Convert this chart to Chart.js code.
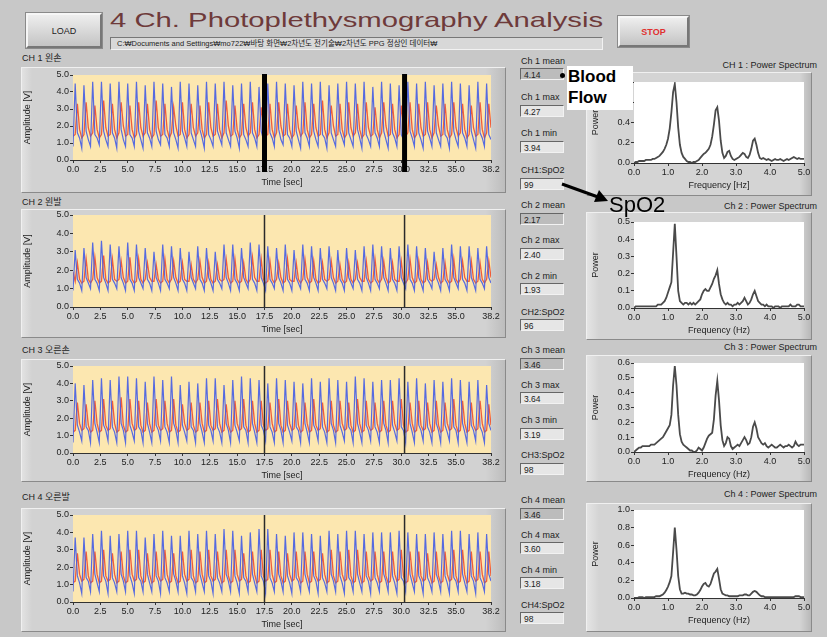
<!DOCTYPE html>
<html><head><meta charset="utf-8">
<script src="https://cdn.jsdelivr.net/npm/chart.js@4.4.0/dist/chart.umd.min.js"></script>
<style>
html,body{margin:0;padding:0;}
body{width:827px;height:637px;background:#c8c8c8;position:relative;overflow:hidden;font-family:"Liberation Sans","Noto Sans CJK KR",sans-serif;color:#222;}
.btn{position:absolute;background:linear-gradient(#eeeeee,#c4c4c4);border:2px solid;border-color:#f6f6f6 #777 #777 #f6f6f6;box-shadow:0 0 0 1px #8a8a8a;font-size:9px;display:flex;align-items:center;justify-content:center;}
.panel{position:absolute;background:#d4d4d4;border:1px solid;border-color:#f0f0f0 #8a8a8a #8a8a8a #f0f0f0;box-sizing:border-box;}
.lbl{position:absolute;font-size:9px;white-space:nowrap;line-height:10px;}
.box{position:absolute;font-size:8.5px;height:12px;line-height:12px;padding-left:3px;box-sizing:border-box;border:1px solid;border-color:#666 #f2f2f2 #f2f2f2 #666;background:#e6e6e6;}
canvas{position:absolute;}
</style></head><body>
<div class="btn" style="left:26px;top:13px;width:72px;height:31px;">LOAD</div>
<div id="title" style="position:absolute;left:110px;top:7px;font-size:21px;color:#6e3a3a;white-space:nowrap;line-height:26px;transform-origin:0 0;">4 Ch. Photoplethysmography Analysis</div>
<div style="position:absolute;left:110px;top:37px;width:493px;height:13px;background:#d8d8d8;border:1px solid;border-color:#777 #f2f2f2 #f2f2f2 #777;box-sizing:border-box;font-size:7.5px;line-height:11px;padding-left:6px;overflow:hidden;white-space:nowrap;">C:₩Documents and Settings₩mo722₩바탕 화면₩2차년도 전기술₩2차년도 PPG 정상인 데이터₩</div>
<div class="btn" style="left:618px;top:16px;width:67px;height:27px;color:#e03030;font-weight:bold;">STOP</div>
<script>
// ---------- DATA ----------
const timeStep = 0.2;
const timeTicks = [0,2.5,5,7.5,10,12.5,15,17.5,20,22.5,25,27.5,30,32.5,35,38.2];
const cursorTimes = [17.5, 30.3];
const channelNames = ['CH 1 왼손','CH 2 왼발','CH 3 오른손','CH 4 오른발'];

const ch1Blue = [
0.8,4.5,1.6,1.3, 0.7,4.4,1.7,1.2, 0.8,4.6,1.5,1.3, 0.9,4.6,1.7,1.2, 0.8,4.5,1.6,1.3, 0.7,4.6,1.8,1.2, 0.8,4.5,1.5,1.3, 0.8,4.6,1.7,1.2,
0.7,4.4,1.6,1.3, 0.8,4.6,1.7,1.2, 0.9,4.5,1.5,1.3, 0.8,4.3,1.6,1.2, 0.7,4.6,1.7,1.3, 0.8,4.5,1.6,1.2, 0.8,4.4,1.8,1.3, 0.7,4.6,1.5,1.2,
0.8,4.5,1.7,1.3, 0.9,4.6,1.6,1.2, 0.8,4.4,1.7,1.3, 0.7,4.5,1.5,1.2, 0.8,4.6,1.6,1.3, 0.8,4.3,1.7,1.2, 0.7,4.5,1.6,1.3, 0.8,4.6,1.8,1.2,
0.9,4.5,1.5,1.3, 0.8,4.4,1.7,1.2, 0.7,4.6,1.6,1.3, 0.8,4.5,1.7,1.2, 0.8,4.6,1.5,1.3, 0.7,4.4,1.6,1.2, 0.8,4.5,1.7,1.3, 0.9,4.6,1.6,1.2,
0.8,4.5,1.8,1.3, 0.7,4.6,1.5,1.2, 0.8,4.3,1.6,1.3, 0.8,4.6,1.7,1.2, 0.7,4.5,1.6,1.3, 0.8,4.4,1.5,1.2, 0.9,4.6,1.7,1.3, 0.8,4.5,1.6,1.2,
0.7,4.6,1.7,1.3, 0.8,4.4,1.6,1.2, 0.8,4.5,1.5,1.3, 0.7,4.6,1.7,1.2, 0.8,4.5,1.6,1.3, 0.8,4.4,1.7,1.2, 0.7,4.6,1.6,1.3, 0.8,4.5,1.5,1.2];
const ch1Red = [
1.4,1.5,3.3,1.8, 1.3,1.5,3.4,1.9, 1.4,1.6,3.2,1.8, 1.3,1.5,3.5,1.9, 1.4,1.5,3.3,1.8, 1.3,1.6,3.4,2.0, 1.4,1.5,3.2,1.8, 1.3,1.5,3.4,1.9,
1.4,1.6,3.3,1.8, 1.3,1.5,3.5,1.9, 1.4,1.5,3.3,1.8, 1.3,1.6,3.1,2.0, 1.4,1.5,3.4,1.8, 1.3,1.5,3.3,1.9, 1.4,1.6,3.2,1.8, 1.3,1.5,3.4,1.9,
1.4,1.5,3.3,1.8, 1.3,1.6,3.5,2.0, 1.4,1.5,3.2,1.8, 1.3,1.5,3.3,1.9, 1.4,1.6,3.4,1.8, 1.3,1.5,3.1,1.9, 1.4,1.5,3.3,1.8, 1.3,1.6,3.4,2.0,
1.4,1.5,3.3,1.8, 1.3,1.5,3.2,1.9, 1.4,1.6,3.4,1.8, 1.3,1.5,3.3,1.9, 1.4,1.5,3.5,1.8, 1.3,1.6,3.2,2.0, 1.4,1.5,3.3,1.8, 1.3,1.5,3.4,1.9,
1.4,1.6,3.3,1.8, 1.3,1.5,3.4,1.9, 1.4,1.5,3.1,1.8, 1.3,1.6,3.4,2.0, 1.4,1.5,3.3,1.8, 1.3,1.5,3.2,1.9, 1.4,1.6,3.4,1.8, 1.3,1.5,3.3,1.9,
1.4,1.5,3.4,1.8, 1.3,1.6,3.2,2.0, 1.4,1.5,3.3,1.8, 1.3,1.5,3.4,1.9, 1.4,1.6,3.3,1.8, 1.3,1.5,3.2,1.9, 1.4,1.5,3.4,1.8, 1.3,1.6,3.3,1.9];
const ch2Blue = [
0.9,3.1,1.5,1.3, 0.9,3.2,1.6,1.3, 1.0,3.5,1.5,1.3, 0.9,3.6,1.6,1.3, 0.9,3.4,1.5,1.3, 1.0,3.3,1.6,1.3, 0.9,3.5,1.5,1.3, 0.9,3.4,1.6,1.3,
1.0,3.2,1.5,1.3, 0.9,3.0,1.6,1.3, 0.9,3.4,1.5,1.3, 1.0,3.3,1.6,1.3, 0.9,3.2,1.5,1.3, 0.9,3.0,1.6,1.3, 1.0,3.3,1.5,1.3, 0.9,3.2,1.6,1.3,
0.9,3.0,1.5,1.3, 1.0,3.4,1.6,1.3, 0.9,3.4,1.5,1.3, 0.9,3.2,1.6,1.3, 1.0,3.5,1.5,1.3, 0.9,3.4,1.6,1.3, 0.9,3.3,1.5,1.3, 1.0,3.2,1.6,1.3,
0.9,3.4,1.5,1.3, 0.9,3.1,1.6,1.3, 1.0,3.4,1.5,1.3, 0.9,3.3,1.6,1.3, 0.9,3.2,1.5,1.3, 1.0,3.3,1.6,1.3, 0.9,3.1,1.5,1.3, 0.9,3.2,1.6,1.3,
1.0,3.1,1.5,1.3, 0.9,3.3,1.6,1.3, 0.9,3.4,1.5,1.3, 1.0,3.3,1.6,1.3, 0.9,3.2,1.5,1.3, 0.9,3.3,1.6,1.3, 1.0,3.4,1.5,1.3, 0.9,3.3,1.6,1.3,
0.9,3.2,1.5,1.3, 1.0,3.0,1.6,1.3, 0.9,3.2,1.5,1.3, 0.9,3.4,1.6,1.3, 1.0,3.3,1.5,1.3, 0.9,3.3,1.6,1.3, 0.9,3.2,1.5,1.3, 1.0,3.3,1.6,1.3];
const ch2Red = [
1.9,1.4,2.4,1.5, 1.3,1.4,2.6,1.5, 1.3,1.5,2.7,1.6, 1.3,1.4,2.8,1.5, 1.3,1.4,2.6,1.5, 1.4,1.5,2.5,1.6, 1.3,1.4,2.7,1.5, 1.3,1.4,2.6,1.5,
1.3,1.5,2.4,1.6, 1.4,1.4,2.3,1.5, 1.3,1.4,2.6,1.5, 1.3,1.5,2.5,1.6, 1.3,1.4,2.4,1.5, 1.4,1.4,2.3,1.5, 1.3,1.5,2.5,1.6, 1.3,1.4,2.4,1.5,
1.3,1.4,2.3,1.5, 1.4,1.5,2.6,1.6, 1.3,1.4,2.6,1.5, 1.3,1.4,2.4,1.5, 1.3,1.5,2.7,1.6, 1.4,1.4,2.6,1.5, 1.3,1.4,2.5,1.5, 1.3,1.5,2.4,1.6,
1.3,1.4,2.6,1.5, 1.4,1.4,2.4,1.5, 1.3,1.5,2.6,1.6, 1.3,1.4,2.5,1.5, 1.3,1.4,2.4,1.5, 1.4,1.5,2.5,1.6, 1.3,1.4,2.3,1.5, 1.3,1.4,2.4,1.5,
1.3,1.5,2.4,1.6, 1.4,1.4,2.5,1.5, 1.3,1.4,2.6,1.5, 1.3,1.5,2.5,1.6, 1.3,1.4,2.4,1.5, 1.4,1.4,2.5,1.5, 1.3,1.5,2.6,1.6, 1.3,1.4,2.5,1.5,
1.3,1.4,2.4,1.5, 1.4,1.5,2.3,1.6, 1.3,1.4,2.4,1.5, 1.3,1.4,2.6,1.5, 1.3,1.5,2.5,1.6, 1.4,1.4,2.5,1.5, 1.3,1.4,2.4,1.5, 1.3,1.5,2.5,1.6];
const ch3Blue = [
0.6,4.0,1.6,1.2, 0.7,3.9,1.5,1.3, 0.6,4.2,1.7,1.2, 0.6,4.3,1.6,1.3, 0.7,4.2,1.5,1.2, 0.6,4.4,1.7,1.3, 0.6,4.4,1.6,1.2, 0.7,4.3,1.5,1.3,
0.6,4.1,1.7,1.2, 0.6,4.4,1.6,1.3, 0.7,4.2,1.5,1.2, 0.6,4.4,1.7,1.3, 0.6,3.9,1.6,1.2, 0.7,4.1,1.5,1.3, 0.6,4.0,1.7,1.2, 0.6,4.3,1.6,1.3,
0.7,4.3,1.5,1.2, 0.6,3.9,1.7,1.3, 0.6,4.2,1.6,1.2, 0.7,4.4,1.5,1.3, 0.6,4.3,1.7,1.2, 0.6,4.2,1.6,1.3, 0.7,4.0,1.5,1.2, 0.6,4.3,1.7,1.3,
0.6,4.2,1.6,1.2, 0.7,4.1,1.5,1.3, 0.6,4.0,1.7,1.2, 0.6,4.3,1.6,1.3, 0.7,4.1,1.5,1.2, 0.6,4.3,1.7,1.3, 0.6,4.2,1.6,1.2, 0.7,4.1,1.5,1.3,
0.6,4.4,1.7,1.2, 0.6,4.3,1.6,1.3, 0.7,4.1,1.5,1.2, 0.6,4.2,1.7,1.3, 0.6,4.2,1.6,1.2, 0.7,4.3,1.5,1.3, 0.6,4.1,1.7,1.2, 0.6,4.3,1.6,1.3,
0.7,4.0,1.5,1.2, 0.6,4.2,1.7,1.3, 0.6,4.1,1.6,1.2, 0.7,4.3,1.5,1.3, 0.6,4.2,1.7,1.2, 0.6,4.1,1.6,1.3, 0.7,4.2,1.5,1.2, 0.6,3.9,1.7,1.3];
const ch3Red = [
1.2,1.3,2.9,1.7, 1.3,1.4,2.8,1.6, 1.2,1.3,3.0,1.7, 1.2,1.3,3.1,1.6, 1.3,1.4,3.0,1.7, 1.2,1.3,3.2,1.6, 1.2,1.3,3.1,1.7, 1.3,1.4,3.0,1.6,
1.2,1.3,2.9,1.7, 1.2,1.3,3.1,1.6, 1.3,1.4,3.0,1.7, 1.2,1.3,3.1,1.6, 1.2,1.3,2.8,1.7, 1.3,1.4,2.9,1.6, 1.2,1.3,2.9,1.7, 1.2,1.3,3.0,1.6,
1.3,1.4,3.1,1.7, 1.2,1.3,2.8,1.6, 1.2,1.3,3.0,1.7, 1.3,1.4,3.1,1.6, 1.2,1.3,3.0,1.7, 1.2,1.3,3.0,1.6, 1.3,1.4,2.9,1.7, 1.2,1.3,3.1,1.6,
1.2,1.3,3.0,1.7, 1.3,1.4,2.9,1.6, 1.2,1.3,2.9,1.7, 1.2,1.3,3.1,1.6, 1.3,1.4,2.9,1.7, 1.2,1.3,3.0,1.6, 1.2,1.3,3.0,1.7, 1.3,1.4,2.9,1.6,
1.2,1.3,3.1,1.7, 1.2,1.3,3.0,1.6, 1.3,1.4,2.9,1.7, 1.2,1.3,3.0,1.6, 1.2,1.3,3.0,1.7, 1.3,1.4,3.1,1.6, 1.2,1.3,2.9,1.7, 1.2,1.3,3.0,1.6,
1.3,1.4,2.9,1.7, 1.2,1.3,3.0,1.6, 1.2,1.3,2.9,1.7, 1.3,1.4,3.1,1.6, 1.2,1.3,3.0,1.7, 1.2,1.3,2.9,1.6, 1.3,1.4,3.0,1.7, 1.2,1.3,2.8,1.6];
const ch4Blue = [
0.6,3.7,1.5,1.1, 0.5,3.7,1.4,1.2, 0.6,3.9,1.6,1.1, 0.6,4.1,1.5,1.2, 0.5,3.8,1.4,1.1, 0.6,3.9,1.6,1.2, 0.6,4.1,1.5,1.1, 0.5,4.1,1.4,1.2,
0.6,3.7,1.6,1.1, 0.6,3.9,1.5,1.2, 0.5,4.1,1.4,1.1, 0.6,3.8,1.6,1.2, 0.6,3.8,1.5,1.1, 0.5,4.1,1.4,1.2, 0.6,3.9,1.6,1.1, 0.6,4.1,1.5,1.2,
0.5,3.9,1.4,1.1, 0.6,4.2,1.6,1.2, 0.6,4.1,1.5,1.1, 0.5,3.8,1.4,1.2, 0.6,4.0,1.6,1.1, 0.6,4.2,1.5,1.2, 0.5,4.2,1.4,1.1, 0.6,3.9,1.6,1.2,
0.6,3.8,1.5,1.1, 0.5,4.0,1.4,1.2, 0.6,4.0,1.6,1.1, 0.6,3.9,1.5,1.2, 0.5,3.8,1.4,1.1, 0.6,4.1,1.6,1.2, 0.6,3.9,1.5,1.1, 0.5,4.1,1.4,1.2,
0.6,4.1,1.6,1.1, 0.6,3.9,1.5,1.2, 0.5,4.0,1.4,1.1, 0.6,4.0,1.6,1.2, 0.6,4.0,1.5,1.1, 0.5,4.1,1.4,1.2, 0.6,4.0,1.6,1.1, 0.6,3.9,1.5,1.2,
0.5,3.9,1.4,1.1, 0.6,4.0,1.6,1.2, 0.6,3.9,1.5,1.1, 0.5,4.1,1.4,1.2, 0.6,4.1,1.6,1.1, 0.6,3.9,1.5,1.2, 0.5,4.0,1.4,1.1, 0.6,3.9,1.6,1.2];
const ch4Red = [
1.1,1.2,2.8,1.6, 1.2,1.3,2.9,1.5, 1.1,1.2,2.9,1.6, 1.1,1.2,3.0,1.5, 1.2,1.3,2.8,1.6, 1.1,1.2,2.9,1.5, 1.1,1.2,3.0,1.6, 1.2,1.3,3.0,1.5,
1.1,1.2,2.8,1.6, 1.1,1.2,2.9,1.5, 1.2,1.3,3.0,1.6, 1.1,1.2,2.8,1.5, 1.1,1.2,2.9,1.6, 1.2,1.3,3.0,1.5, 1.1,1.2,2.9,1.6, 1.1,1.2,3.0,1.5,
1.2,1.3,2.9,1.6, 1.1,1.2,3.0,1.5, 1.1,1.2,3.0,1.6, 1.2,1.3,2.8,1.5, 1.1,1.2,2.9,1.6, 1.1,1.2,3.0,1.5, 1.2,1.3,3.0,1.6, 1.1,1.2,2.9,1.5,
1.1,1.2,2.8,1.6, 1.2,1.3,2.9,1.5, 1.1,1.2,2.9,1.6, 1.1,1.2,2.9,1.5, 1.2,1.3,2.8,1.6, 1.1,1.2,3.0,1.5, 1.1,1.2,2.9,1.6, 1.2,1.3,3.0,1.5,
1.1,1.2,3.0,1.6, 1.1,1.2,2.9,1.5, 1.2,1.3,2.9,1.6, 1.1,1.2,2.9,1.5, 1.1,1.2,2.9,1.6, 1.2,1.3,3.0,1.5, 1.1,1.2,2.9,1.6, 1.1,1.2,2.9,1.5,
1.2,1.3,2.8,1.6, 1.1,1.2,2.9,1.5, 1.1,1.2,2.9,1.6, 1.2,1.3,3.0,1.5, 1.1,1.2,3.0,1.6, 1.1,1.2,2.9,1.5, 1.2,1.3,2.9,1.6, 1.1,1.2,2.9,1.5];

const freqStep = 0.05;
const freqTicks = [0,1,2,3,4,5];
const ch1Power = [
0.00,0.01,0.01,0.02,0.02,0.02,0.02,0.03,0.03,0.03,
0.03,0.04,0.04,0.05,0.06,0.07,0.09,0.11,0.14,0.18,
0.24,0.34,0.50,0.70,0.78,0.60,0.35,0.18,0.10,0.06,
0.04,0.02,0.01,0.01,0.00,0.01,0.01,0.02,0.03,0.05,
0.07,0.09,0.10,0.12,0.14,0.18,0.26,0.38,0.52,0.55,
0.42,0.22,0.10,0.05,0.07,0.11,0.12,0.07,0.04,0.03,
0.04,0.05,0.06,0.08,0.10,0.09,0.06,0.05,0.08,0.14,
0.22,0.24,0.18,0.10,0.05,0.04,0.05,0.04,0.03,0.04,
0.03,0.02,0.03,0.04,0.03,0.03,0.04,0.03,0.02,0.03,
0.04,0.03,0.04,0.05,0.06,0.05,0.04,0.05,0.04,0.04,
0.04];
const ch2Power = [
0.00,0.01,0.01,0.01,0.01,0.01,0.01,0.01,0.01,0.01,
0.01,0.01,0.01,0.01,0.02,0.02,0.02,0.03,0.04,0.06,
0.09,0.12,0.15,0.32,0.49,0.30,0.10,0.04,0.03,0.02,
0.03,0.03,0.02,0.03,0.02,0.03,0.02,0.03,0.04,0.05,
0.08,0.10,0.11,0.10,0.10,0.12,0.14,0.17,0.19,0.22,
0.14,0.08,0.05,0.03,0.02,0.03,0.02,0.02,0.01,0.02,
0.02,0.03,0.02,0.03,0.04,0.06,0.04,0.02,0.03,0.05,
0.08,0.10,0.07,0.04,0.03,0.02,0.02,0.01,0.02,0.01,
0.01,0.01,0.00,0.01,0.01,0.01,0.00,0.01,0.01,0.01,
0.01,0.01,0.02,0.01,0.01,0.01,0.02,0.02,0.01,0.01,
0.01];
const ch3Power = [
0.00,0.01,0.02,0.03,0.03,0.04,0.04,0.04,0.04,0.04,
0.05,0.05,0.05,0.06,0.07,0.08,0.09,0.10,0.12,0.14,
0.16,0.18,0.25,0.45,0.58,0.45,0.25,0.12,0.07,0.05,
0.04,0.03,0.02,0.01,0.01,0.00,0.00,0.01,0.03,0.02,
0.01,0.03,0.06,0.09,0.11,0.12,0.13,0.22,0.38,0.48,
0.35,0.18,0.08,0.04,0.06,0.10,0.09,0.04,0.02,0.03,
0.04,0.05,0.04,0.06,0.08,0.10,0.08,0.05,0.06,0.10,
0.17,0.20,0.16,0.10,0.08,0.06,0.05,0.06,0.04,0.03,
0.04,0.05,0.04,0.03,0.03,0.04,0.05,0.04,0.03,0.04,
0.04,0.05,0.04,0.03,0.04,0.07,0.05,0.04,0.05,0.05,
0.05];
const ch4Power = [
0.00,0.00,0.00,0.01,0.01,0.01,0.00,0.01,0.01,0.01,
0.01,0.01,0.01,0.02,0.02,0.02,0.03,0.04,0.06,0.09,
0.13,0.18,0.25,0.52,0.80,0.55,0.25,0.10,0.05,0.05,
0.06,0.05,0.05,0.04,0.04,0.03,0.03,0.04,0.06,0.09,
0.13,0.16,0.17,0.14,0.13,0.16,0.22,0.28,0.30,0.33,
0.22,0.10,0.05,0.04,0.03,0.03,0.02,0.02,0.02,0.02,
0.02,0.02,0.03,0.03,0.03,0.04,0.04,0.03,0.03,0.05,
0.07,0.08,0.07,0.05,0.03,0.02,0.02,0.01,0.01,0.01,
0.01,0.01,0.01,0.01,0.01,0.01,0.01,0.01,0.01,0.01,
0.01,0.01,0.01,0.01,0.01,0.02,0.02,0.02,0.01,0.01,
0.01];
const powerMax = [0.8, 0.5, 0.6, 1.0];
const powerStep = [0.2, 0.1, 0.1, 0.2];
const spectrumTitles = ['CH 1 : Power Spectrum','Ch 2 : Power Spectrum','Ch 3 : Power Spectrum','Ch 4 : Power Spectrum'];
const freqAxisTitles = ['Frequency [Hz]','Frequency (Hz)','Frequency (Hz)','Frequency (Hz)'];

const meanValues = ['4.14','2.17','3.46','3.46'];
const maxValues  = ['4.27','2.40','3.64','3.60'];
const minValues  = ['3.94','1.93','3.19','3.18'];
const spo2Values = ['99','96','98','98'];

const blueSeries = [ch1Blue, ch2Blue, ch3Blue, ch4Blue];
const redSeries  = [ch1Red, ch2Red, ch3Red, ch4Red];
const powerSeries = [ch1Power, ch2Power, ch3Power, ch4Power];

// ---------- LAYOUT ----------
const waveLayout = [
  {label:53, panelTop:67, panelBottom:193, plotTop:75, plotBottom:160},
  {label:197, panelTop:209, panelBottom:338, plotTop:215, plotBottom:307},
  {label:345, panelTop:359, panelBottom:482, plotTop:366, plotBottom:453},
  {label:492, panelTop:508, panelBottom:632, plotTop:515, plotBottom:602}
];
const specLayout = [
  {title:60, panelTop:72, panelBottom:196, plotTop:82, plotBottom:163},
  {title:201, panelTop:212, panelBottom:340, plotTop:222, plotBottom:308},
  {title:342, panelTop:355, panelBottom:482, plotTop:363, plotBottom:452},
  {title:489, panelTop:503, panelBottom:632, plotTop:510, plotBottom:598}
];
const indLayout = [
  [56,68, 92,105, 128,141, 165,178],
  [200,213, 235,248, 271,283, 307,319],
  [345,358, 380,392, 415,428, 450,463],
  [495,508, 530,542, 565,577, 600,612]
];

function el(tag, cls, style, text){
  const d = document.createElement(tag);
  if(cls) d.className = cls;
  Object.assign(d.style, style);
  if(text !== undefined) d.textContent = text;
  document.body.appendChild(d);
  return d;
}

const plotBg = {
  id:'plotBg',
  beforeDatasetsDraw(chart, args, opts){
    if(!opts || !opts.color) return;
    const {ctx, chartArea:a} = chart;
    ctx.save(); ctx.fillStyle = opts.color;
    ctx.fillRect(a.left, a.top, a.right-a.left, a.bottom-a.top);
    ctx.restore();
  }
};
const cursors = {
  id:'cursors',
  afterDatasetsDraw(chart, args, opts){
    if(!opts || !opts.values) return;
    const {ctx, chartArea:a} = chart;
    const x = chart.scales.x;
    ctx.save(); ctx.strokeStyle = opts.color; ctx.lineWidth = opts.width;
    opts.values.forEach(v => {
      const px = x.getPixelForValue(v);
      ctx.beginPath();
      ctx.moveTo(px, a.top - (opts.extTop||0));
      ctx.lineTo(px, a.bottom + (opts.extBottom||0));
      ctx.stroke();
    });
    ctx.restore();
  }
};
Chart.register(plotBg, cursors);
Chart.defaults.font.family = '"Liberation Sans", sans-serif';
Chart.defaults.color = '#222';

const tickFont = {size:9};
function axisCommon(){
  return {
    grid:{drawOnChartArea:false, drawTicks:true, tickLength:3, color:'#333'},
    border:{display:true, color:'#333', width:1}
  };
}

for(let c=0;c<4;c++){
  const L = waveLayout[c];
  el('div','panel',{left:'21px',top:L.panelTop+'px',width:'485px',height:(L.panelBottom-L.panelTop)+'px',
     background:'linear-gradient(90deg,#e2e2e2 0px,#d2d2d2 10px,#d2d2d2 96%,#bdbdbd 100%)'});
  el('div','lbl',{left:'22px',top:L.label+'px'}, channelNames[c]);

  const left = 22, plotLeft = 73, plotRight = 491, padTop = 10, padRight = 14, xH = 28;
  const cv = el('canvas', null, {left:left+'px', top:(L.plotTop-padTop)+'px'});
  cv.width = plotRight-left+padRight; cv.height = L.plotBottom-L.plotTop+padTop+xH;
  const blue = blueSeries[c].map((v,i)=>({x:+(i*timeStep).toFixed(2), y:v}));
  const red = redSeries[c].map((v,i)=>({x:+(i*timeStep).toFixed(2), y:v}));
  new Chart(cv, {
    type:'line',
    data:{datasets:[
      {data:blue, borderColor:'rgba(72,96,228,0.92)', borderWidth:1.2, pointRadius:0, tension:0},
      {data:red, borderColor:'rgba(238,78,44,0.9)', borderWidth:1.3, pointRadius:0, tension:0}
    ]},
    options:{
      responsive:false, animation:false, events:[], devicePixelRatio:1,
      layout:{padding:{top:padTop, right:padRight, left:0, bottom:0}},
      plugins:{legend:{display:false}, tooltip:{enabled:false},
        plotBg:{color:'#fce7b0'},
        cursors: c===0 ? {values:cursorTimes, color:'#000', width:5, extTop:1, extBottom:12}
                       : {values:cursorTimes, color:'#2a2a2a', width:1.5, extTop:0, extBottom:0}},
      scales:{
        x:Object.assign(axisCommon(), {type:'linear', min:0, max:38.2,
          afterBuildTicks:s=>{ s.ticks = timeTicks.map(v=>({value:v})); },
          afterFit:s=>{ s.height = xH; },
          ticks:{font:tickFont, autoSkip:false, maxRotation:0, padding:1, callback:v=>Number(v).toFixed(1)},
          title:{display:true, text:'Time [sec]', font:{size:9}, padding:{top:0,bottom:0}}}),
        y:Object.assign(axisCommon(), {min:0, max:5,
          afterFit:s=>{ s.width = plotLeft-left; },
          ticks:{font:tickFont, stepSize:1, padding:1, callback:v=>Number(v).toFixed(1)},
          title:{display:true, text:'Amplitude [V]', font:{size:9}, padding:{top:0,bottom:2}}})
      }
    }
  });

  // indicators
  const I = indLayout[c];
  const n = c+1;
  const names = ['Ch '+n+' mean','Ch '+n+' max','Ch '+n+' min','CH'+n+':SpO2'];
  const vals = [meanValues[c], maxValues[c], minValues[c], spo2Values[c]];
  for(let k=0;k<4;k++){
    el('div','lbl',{left:'521px',top:I[2*k]+'px'}, names[k]);
    el('div','box',{left:'520px',top:I[2*k+1]+'px',width:'44px',background:k===0?'#bcbcbc':'#e6e6e6'}, vals[k]);
  }

  // spectrum
  const S = specLayout[c];
  el('div','panel',{left:'586px',top:S.panelTop+'px',width:'226px',height:(S.panelBottom-S.panelTop)+'px',
     background:'linear-gradient(90deg,#e4e4e4 0px,#d4d4d4 12px,#d4d4d4 95%,#b8b8b8 100%)'});
  el('div','lbl',{right:'10px',top:S.title+'px'}, spectrumTitles[c]);
  const sLeft = 590, sPlotLeft = 634, sPlotRight = 804, sPadTop = 10, sPadRight = 10;
  const sc = el('canvas', null, {left:sLeft+'px', top:(S.plotTop-sPadTop)+'px'});
  sc.width = sPlotRight-sLeft+sPadRight; sc.height = S.plotBottom-S.plotTop+sPadTop+xH;
  const pts = powerSeries[c].map((v,i)=>({x:+(i*freqStep).toFixed(2), y:v}));
  new Chart(sc, {
    type:'line',
    data:{datasets:[{data:pts, borderColor:'#4a4a4a', borderWidth:1.8, pointRadius:0, tension:0}]},
    options:{
      responsive:false, animation:false, events:[], devicePixelRatio:1,
      layout:{padding:{top:sPadTop, right:sPadRight, left:0, bottom:0}},
      plugins:{legend:{display:false}, tooltip:{enabled:false}, plotBg:{color:'#ffffff'}},
      scales:{
        x:Object.assign(axisCommon(), {type:'linear', min:0, max:5,
          afterBuildTicks:s=>{ s.ticks = freqTicks.map(v=>({value:v})); },
          afterFit:s=>{ s.height = xH; },
          ticks:{font:tickFont, autoSkip:false, maxRotation:0, padding:1, callback:v=>Number(v).toFixed(1)},
          title:{display:true, text:freqAxisTitles[c], font:{size:9}, padding:{top:0,bottom:0}}}),
        y:Object.assign(axisCommon(), {min:0, max:powerMax[c],
          afterFit:s=>{ s.width = sPlotLeft-sLeft; },
          ticks:{font:tickFont, stepSize:powerStep[c], padding:1, callback:v=>Number(v).toFixed(1)},
          title:{display:true, text:'Power', font:{size:9}, padding:{top:0,bottom:4}}})
      }
    }
  });
}

// annotations
el('div', null, {position:'absolute', left:'567px', top:'66px', width:'66px', height:'44px', background:'#fff',
  font:'bold 17px "Liberation Sans",sans-serif', lineHeight:'21px', color:'#000', paddingLeft:'1px', boxSizing:'border-box'});
document.body.lastChild.innerHTML = 'Blood<br>Flow';
el('div', null, {position:'absolute', left:'560px', top:'73px', width:'5px', height:'5px', borderRadius:'50%', background:'#000'});
el('div', null, {position:'absolute', left:'609px', top:'193px', font:'22px "Liberation Sans",sans-serif', color:'#000', lineHeight:'24px'}, 'SpO2');
const svgNS = 'http://www.w3.org/2000/svg';
const svg = document.createElementNS(svgNS,'svg');
svg.setAttribute('width','827'); svg.setAttribute('height','637');
svg.style.position='absolute'; svg.style.left='0'; svg.style.top='0'; svg.style.pointerEvents='none';
svg.innerHTML = '<line x1="562" y1="184" x2="598" y2="197" stroke="#000" stroke-width="3"/><polygon points="608,201 594,202 599,190" fill="#000"/>';
document.body.appendChild(svg);

// stretch title horizontally to the reference width
const t = document.getElementById('title');
const w = t.getBoundingClientRect().width;
t.style.transform = 'scaleX(' + (493 / w).toFixed(3) + ')';
</script>
</body></html>
